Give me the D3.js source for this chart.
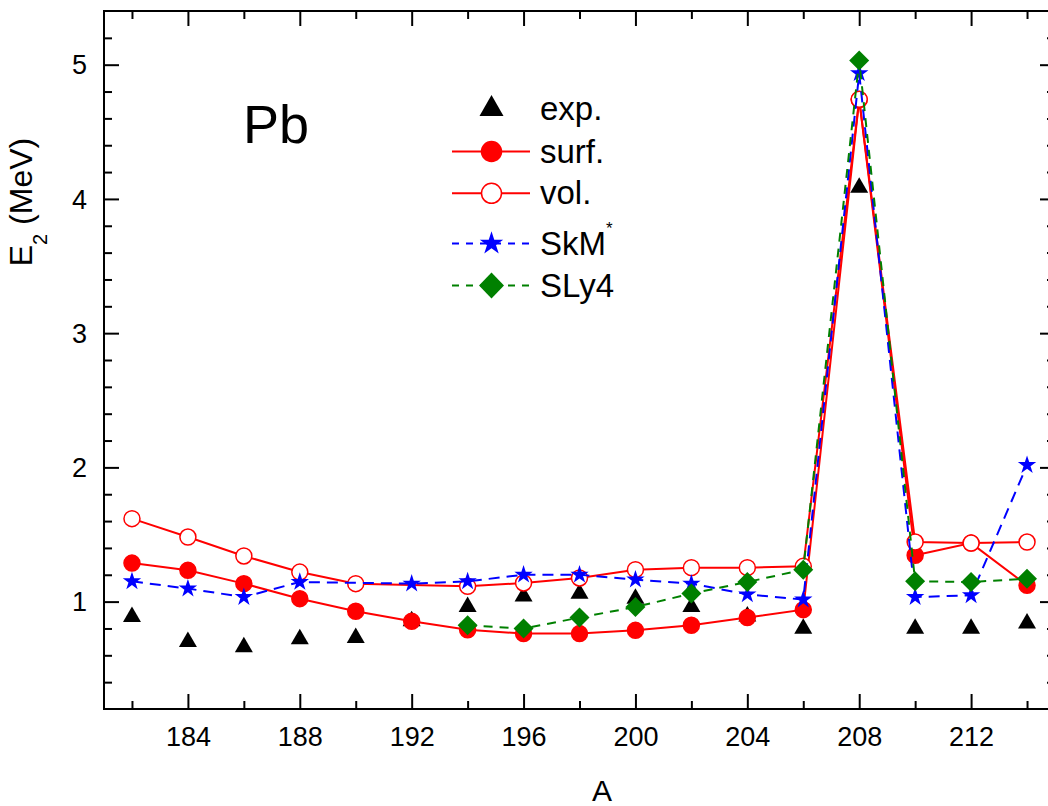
<!DOCTYPE html>
<html>
<head>
<meta charset="utf-8">
<script src="https://cdn.jsdelivr.net/npm/d3@7"></script>
<style>
  html, body { margin: 0; padding: 0; background: #fff; }
  svg { display: block; font-family: "Liberation Sans", Arial, sans-serif; }
</style>
</head>
<body>
<svg id="chart" width="1048" height="806"></svg>
<script>
// ---- data ----
const massNumbers = [182,184,186,188,190,192,194,196,198,200,202,204,206,208,210,212,214];
const expE2  = [0.887,0.700,0.662,0.720,0.730,0.855,0.962,1.040,1.060,1.022,0.962,0.890,0.800,4.085,0.800,0.800,0.838];
const surfE2 = [1.287,1.233,1.134,1.022,0.928,0.853,0.790,0.762,0.762,0.786,0.824,0.881,0.940,4.740,1.345,1.436,1.121];
const volE2  = [1.618,1.481,1.340,1.220,1.134,null,1.114,1.139,1.176,1.238,1.253,1.253,1.263,4.742,1.444,1.436,1.444];
const skmE2  = [1.151,1.097,1.034,1.146,null,1.134,1.151,1.200,1.200,1.164,1.134,1.054,1.015,4.936,1.034,1.047,2.017];
const sly4E2 = [null,null,null,null,null,null,0.823,0.799,0.881,0.960,1.060,1.146,1.238,5.031,1.151,1.146,1.171];

const xMajorTicks = [184,188,192,196,200,204,208,212];
const xMinorTicks = [182,186,190,194,198,202,206,210,214];
const yMajorTicks = [1,2,3,4,5];
const yMinorTicks = [0.4,0.6,0.8,1.2,1.4,1.6,1.8,2.2,2.4,2.6,2.8,3.2,3.4,3.6,3.8,4.2,4.4,4.6,4.8,5.2];

const legendLabels = ["exp.", "surf.", "vol.", "SkM", "SLy4"];

// ---- layout ----
const L = 104, R = 1055, T = 11, B = 709;
const svg = d3.select("#chart");
const x = d3.scaleLinear().domain([181, 215]).range([L, R]);
const y = d3.scaleLinear().domain([0.2, 5.4]).range([B, T]);

// marker shapes (relative paths)
function triPath(w, h) { return `M0,${-2*h/3}L${w/2},${h/3}L${-w/2},${h/3}Z`; }
function diaPath(w, h) { return `M0,${-h/2}L${w/2},0L0,${h/2}L${-w/2},0Z`; }
const starPath = s => d3.symbol(d3.symbolStar, s)();

const series = [
  {vals: expE2,  line: null, marker: "tri", fill: "#000", stroke: "none"},
  {vals: surfE2, line: {color: "#ff0000", dash: null}, marker: "circle", fill: "#ff0000", stroke: "#ff0000"},
  {vals: volE2,  line: {color: "#ff0000", dash: null}, marker: "circle", fill: "#fff", stroke: "#ff0000"},
  {vals: skmE2,  line: {color: "#0000ff", dash: "11,7"}, marker: "star", fill: "#0000ff", stroke: "none"},
  {vals: sly4E2, line: {color: "#008000", dash: "9,7"}, marker: "dia", fill: "#008000", stroke: "none"}
];

function drawMarker(g, type, big, fill, stroke) {
  if (type === "circle") {
    g.append("circle").attr("r", big ? 10 : 8).attr("fill", fill)
     .attr("stroke", stroke).attr("stroke-width", 1.5);
  } else if (type === "tri") {
    g.append("path").attr("d", big ? triPath(24, 21) : triPath(18, 15.5)).attr("fill", fill);
  } else if (type === "star") {
    g.append("path").attr("d", big ? starPath(170) : starPath(105)).attr("fill", fill);
  } else if (type === "dia") {
    g.append("path").attr("d", big ? diaPath(25, 26) : diaPath(20, 20)).attr("fill", fill);
  }
}

// ---- axes ----
function styleAxis(g) {
  g.select(".domain").remove();
  g.selectAll(".tick line").attr("stroke", "#000").attr("stroke-width", 2);
  g.selectAll(".tick text").attr("fill", "#000");
}
// bottom
svg.append("g").attr("transform", `translate(0,${B})`)
  .call(d3.axisBottom(x).tickValues(xMajorTicks).tickSizeInner(-15).tickSizeOuter(0).tickPadding(18).tickFormat(d3.format("d")))
  .call(styleAxis).call(g => g.selectAll(".tick text").attr("font-size", 27).attr("font-family", "Liberation Sans, Arial, sans-serif"));
svg.append("g").attr("transform", `translate(0,${B})`)
  .call(d3.axisBottom(x).tickValues(xMinorTicks).tickSizeInner(-8).tickSizeOuter(0).tickFormat(""))
  .call(styleAxis);
// top
svg.append("g").attr("transform", `translate(0,${T})`)
  .call(d3.axisTop(x).tickValues(xMajorTicks).tickSizeInner(-15).tickSizeOuter(0).tickFormat(""))
  .call(styleAxis);
svg.append("g").attr("transform", `translate(0,${T})`)
  .call(d3.axisTop(x).tickValues(xMinorTicks).tickSizeInner(-8).tickSizeOuter(0).tickFormat(""))
  .call(styleAxis);
// left
svg.append("g").attr("transform", `translate(${L},0)`)
  .call(d3.axisLeft(y).tickValues(yMajorTicks).tickSizeInner(-15).tickSizeOuter(0).tickPadding(17).tickFormat(d3.format("d")))
  .call(styleAxis).call(g => g.selectAll(".tick text").attr("font-size", 27).attr("dy", "0.34em").attr("font-family", "Liberation Sans, Arial, sans-serif"));
svg.append("g").attr("transform", `translate(${L},0)`)
  .call(d3.axisLeft(y).tickValues(yMinorTicks).tickSizeInner(-8).tickSizeOuter(0).tickFormat(""))
  .call(styleAxis);
// right
svg.append("g").attr("transform", `translate(${R},0)`)
  .call(d3.axisRight(y).tickValues(yMajorTicks).tickSizeInner(-15).tickSizeOuter(0).tickFormat(""))
  .call(styleAxis);
svg.append("g").attr("transform", `translate(${R},0)`)
  .call(d3.axisRight(y).tickValues(yMinorTicks).tickSizeInner(-8).tickSizeOuter(0).tickFormat(""))
  .call(styleAxis);
// frame
svg.append("rect").attr("x", L).attr("y", T).attr("width", R - L).attr("height", B - T)
  .attr("fill", "none").attr("stroke", "#000").attr("stroke-width", 2);

// ---- series ----
const lineGen = d3.line().x(d => x(d.a)).y(d => y(d.v));
series.forEach(s => {
  const pts = massNumbers.map((a, i) => ({a, v: s.vals[i]})).filter(d => d.v != null);
  if (s.line) {
    svg.append("path").datum(pts).attr("d", lineGen).attr("fill", "none")
      .attr("stroke", s.line.color).attr("stroke-width", 2)
      .attr("stroke-dasharray", s.line.dash);
  }
  pts.forEach(d => {
    const g = svg.append("g").attr("transform", `translate(${x(d.a)},${y(d.v)})`);
    drawMarker(g, s.marker, false, s.fill, s.stroke);
  });
});

// ---- legend ----
const legRowsY = [109, 151.5, 193.3, 243.5, 285.5];
const legX0 = 452, legX1 = 530, legMX = 491.5, legTX = 540;
series.forEach((s, i) => {
  const yy = legRowsY[i];
  if (s.line) {
    svg.append("line").attr("x1", legX0).attr("x2", legX1).attr("y1", yy).attr("y2", yy)
      .attr("stroke", s.line.color).attr("stroke-width", 2)
      .attr("stroke-dasharray", s.line.dash ? "7,7" : null);
  }
  const g = svg.append("g").attr("transform", `translate(${legMX},${yy})`);
  drawMarker(g, s.marker, true, s.fill, s.stroke);
  const t = svg.append("text").attr("x", legTX).attr("y", yy + 11)
    .attr("font-size", 33).attr("fill", "#000").text(legendLabels[i]);
  if (i === 3) {
    t.append("tspan").attr("font-size", 17).attr("dy", -21).text("*");
  }
});

// ---- labels ----
svg.append("text").attr("x", 243).attr("y", 143).attr("font-size", 54).attr("fill", "#000").text("Pb");

svg.append("text").attr("x", 602).attr("y", 801).attr("text-anchor", "middle")
  .attr("font-size", 30).attr("fill", "#000").text("A");

const yl = svg.append("text").attr("transform", "translate(32,202) rotate(-90)")
  .attr("text-anchor", "middle").attr("font-size", 32).attr("fill", "#000");
yl.append("tspan").text("E");
yl.append("tspan").attr("font-size", 20).attr("dy", 15).text("2");
yl.append("tspan").attr("dy", -15).text(" (MeV)");
</script>
</body>
</html>
